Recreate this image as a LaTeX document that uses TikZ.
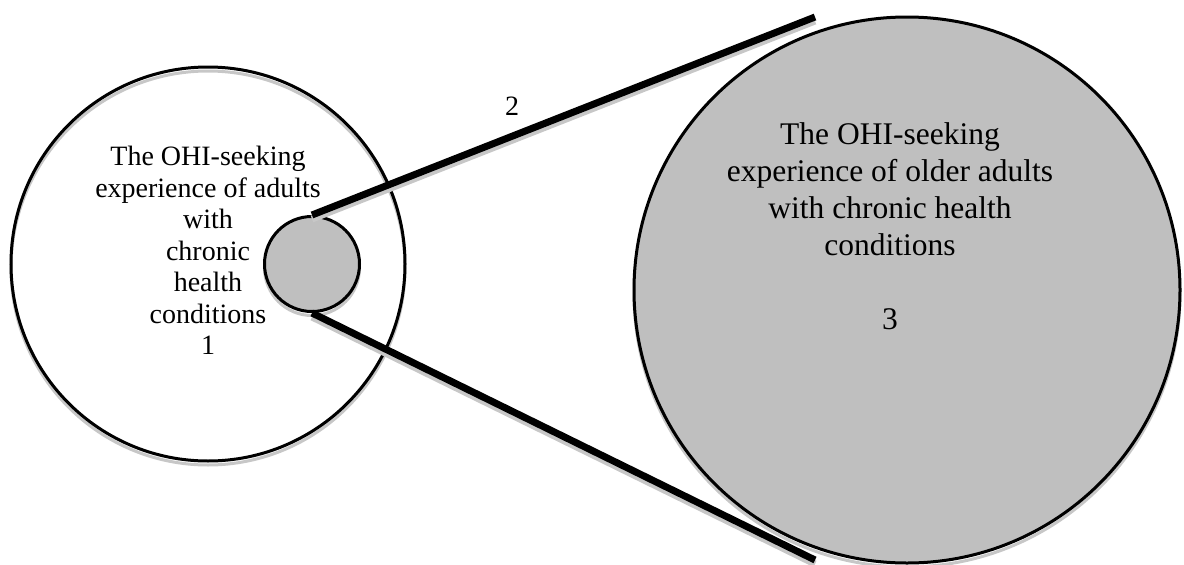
\documentclass[tikz,border=0pt]{standalone}
\usepackage{fontspec}
\setmainfont{Liberation Serif}
\tikzset{
  undershadow/.style={preaction={draw=black!22, line width=#1, transform canvas={yshift=-4pt}}},
  ring/.style={circle, draw, line width=3pt, inner sep=0pt, minimum size=#1, undershadow=3pt},
  bar/.style={line width=7pt, undershadow=7pt},
  blurb/.style={align=center, inner sep=0pt, anchor=north}
}

\begin{document}
\begin{tikzpicture}[x=1pt, y=-1pt]
\useasboundingbox (0,0) rectangle (1184,565);

\node[ring=394pt] (adults) at (208,264) {};
\node[ring=95pt, fill=black!25] (older) at (312,264) {};
\node[ring=546pt, fill=black!25] (zoomed) at (907,290) {};

\coordinate (upperend) at (815,17);
\coordinate (lowerend) at (815,560);
\draw[bar] (older.north) -- (upperend);
\draw[bar] (older.south) -- (lowerend);

\node[blurb, font=\fontsize{28}{31.5}\selectfont] (adultstext) at (208,146)
  {The OHI-seeking\\experience of adults\\with\\chronic\\health\\conditions\\1};
\node[blurb, font=\fontsize{31.5}{37}\selectfont] (zoomedtext) at (890,122)
  {The OHI-seeking\\experience of older adults\\with chronic health\\conditions\\[37pt]3};
\node[font=\fontsize{28}{31.5}\selectfont, anchor=base] (zoomlabel) at (512,115) {2};
\end{tikzpicture}
\end{document}
